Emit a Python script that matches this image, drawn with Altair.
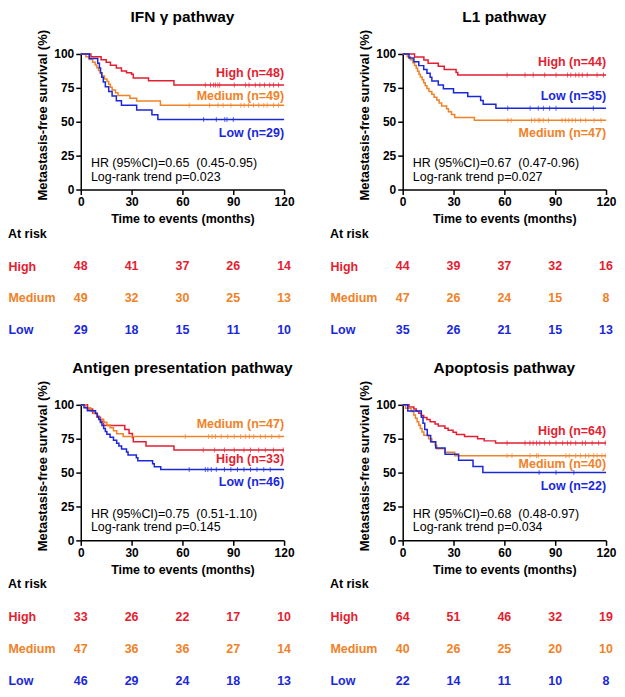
import altair as alt
import pandas as pd

FONT = "Liberation Sans"
RED = "#e41e30"
ORANGE = "#f08228"
BLUE = "#1a28da"
GROUPS = ["High", "Medium", "Low"]
COLORS = [RED, ORANGE, BLUE]
X_TICKS = [0, 30, 60, 90, 120]
Y_TICKS = [0, 25, 50, 75, 100]

# ---------------- IFN gamma pathway ----------------
ifn_high_t = [0, 6, 12, 15, 17.5, 21, 24, 27, 30, 31, 40, 55]
ifn_high_s = [100, 97.9, 95.8, 93.8, 91.7, 89.6, 87.5, 86.2, 85.0, 82.3, 80.2, 77.1]
ifn_high_c = [73.5, 76.6, 78.4, 79.5, 80.9, 82, 90.6, 97.3, 99.3, 103, 105.7, 108.5, 111.5, 113.8, 116.7]
ifn_med_t = [0, 3, 5, 7, 8.5, 9.5, 10.5, 11.5, 12.5, 14, 15.5, 16.5, 17.5, 18.5, 20.5, 22, 29, 33, 47]
ifn_med_s = [100, 98, 95.9, 93.9, 91.8, 89.8, 87.8, 85.7, 83.7, 81.6, 79.6, 77.6, 75.5, 73.5, 71.4, 69.4, 67.3, 65.3, 62.2]
ifn_med_c = [64, 76, 81, 84, 88.6, 94.5, 96.5, 99, 102, 105, 108, 110, 113.8, 116.7]
ifn_low_t = [0, 5, 10, 11, 11.7, 12.4, 13.3, 14.5, 16.5, 18.5, 21, 24, 33, 42, 45.5]
ifn_low_s = [100, 96.6, 93.1, 89.7, 86.2, 82.8, 79.3, 75.9, 72.4, 69.0, 65.5, 62.1, 58.6, 55.2, 51.7]
ifn_low_c = [72.5, 80, 85, 86.3, 90]
ifn_n = [48, 49, 29]
ifn_risk_high = [48, 41, 37, 26, 14]
ifn_risk_med = [49, 32, 30, 25, 13]
ifn_risk_low = [29, 18, 15, 11, 10]
ifn_hr = ["HR (95%CI)=0.65\u00a0 (0.45-0.95)", "Log-rank trend p=0.023"]

# ---------------- L1 pathway ----------------
l1_high_t = [0, 7, 12.5, 15, 21, 24.5, 31.5, 32.5]
l1_high_s = [100, 97.7, 95.5, 93.2, 90.9, 88.6, 86.4, 84.5]
l1_high_c = [61.6, 72.2, 77, 83.8, 90.5, 97.3, 99.2, 102.1, 104, 106, 108.9, 114.7, 118.5]
l1_med_t = [0, 2.7, 4.5, 6, 7, 8, 8.8, 9.6, 10.4, 11.5, 12.4, 13.3, 14.3, 15.5, 17.2, 18.5, 20.1, 21.5, 23, 25.9, 27, 28.8, 30.7, 42.3]
l1_med_s = [100, 97.9, 95.7, 93.6, 91.5, 89.4, 87.2, 85.1, 83, 80.9, 78.7, 76.6, 74.5, 72.3, 70.2, 68.1, 66, 63.8, 61.7, 59.6, 57.4, 55.3, 53.2, 51.1]
l1_med_c = [62, 64, 76, 78, 80, 81, 83, 86, 94, 96, 98, 100, 102, 105, 108, 113, 117]
l1_low_t = [0, 3.7, 6.6, 9.5, 12.4, 14.3, 16.2, 17.2, 21, 24, 30, 38.4, 46, 47.5, 55]
l1_low_s = [100, 97.1, 94.3, 91.4, 88.6, 85.7, 82.9, 80, 77.1, 74.3, 71.4, 68.6, 65.7, 62.9, 60]
l1_low_c = [62, 75.2, 80, 83, 86.7, 90.5, 112.5]
l1_n = [44, 47, 35]
l1_risk_high = [44, 39, 37, 32, 16]
l1_risk_med = [47, 26, 24, 15, 8]
l1_risk_low = [35, 26, 21, 15, 13]
l1_hr = ["HR (95%CI)=0.67\u00a0 (0.47-0.96)", "Log-rank trend p=0.027"]

# ---------------- Antigen presentation pathway ----------------
ag_high_t = [0, 4, 7, 9.6, 11.6, 13.5, 26, 28.5, 30.5, 31, 38.5, 55]
ag_high_s = [100, 97, 93.9, 90.9, 87.9, 84.8, 81.8, 78.8, 75.8, 72.7, 69.7, 66.7]
ag_high_c = [72.3, 79, 84.8, 90.6, 96.3, 100.2, 105, 108.9, 113.7, 119.5]
ag_med_t = [0, 3, 5.8, 7.7, 9.6, 11, 13.5, 15.4, 17.3, 19.3, 21.2, 25]
ag_med_s = [100, 97.9, 95.7, 93.6, 91.5, 89.4, 87.2, 85.1, 83, 80.9, 78.7, 76.6]
ag_med_c = [61.7, 75.5, 77.5, 79.5, 82.9, 86.7, 90.6, 94.4, 97.3, 99.5, 102.1, 106, 108.9, 112.7, 117]
ag_low_t = [0, 1.9, 3.9, 8.7, 9.8, 10.6, 11.6, 12.5, 13.5, 14.5, 15.4, 17.3, 19.3, 21.2, 22.5, 24.1, 27, 27.9, 32.8, 33.7, 42.4, 43.4, 47.2]
ag_low_s = [100, 97.8, 95.7, 93.5, 91.3, 89.1, 87, 84.8, 82.6, 80.4, 78.3, 76.1, 73.9, 71.7, 69.6, 67.4, 65.2, 63, 60.9, 58.7, 56.5, 54.3, 52.2]
ag_low_c = [64, 73.5, 75, 77, 80, 84.8, 88.6, 92.5, 96.3, 100.2, 104, 108, 111.8]
ag_n = [33, 47, 46]
ag_risk_high = [33, 26, 22, 17, 10]
ag_risk_med = [47, 36, 36, 27, 14]
ag_risk_low = [46, 29, 24, 18, 13]
ag_hr = ["HR (95%CI)=0.75\u00a0 (0.51-1.10)", "Log-rank trend p=0.145"]

# ---------------- Apoptosis pathway ----------------
ap_high_t = [0, 3.7, 6.6, 8, 9.5, 11, 12.4, 14.3, 16.2, 19.1, 21, 24.9, 26.8, 29.7, 31.7, 36.5, 44.2, 48.1, 54.8]
ap_high_s = [100, 98.4, 96.9, 95.3, 93.8, 92.2, 90.6, 89.1, 87.5, 85.9, 84.4, 82.8, 81.3, 79.7, 78.1, 76.6, 75, 73.4, 71.9]
ap_high_c = [61.6, 72.2, 75.1, 77, 79, 80.9, 83.8, 86.7, 90.5, 94.4, 97.3, 99.2, 102.1, 106, 107.9, 111.8, 115.6, 119.5]
ap_med_t = [0, 1.7, 5, 6.5, 7.5, 8.5, 9.5, 10.4, 11.4, 12.5, 15.3, 17.2, 19.1, 20.1, 24.9, 30.7]
ap_med_s = [100, 97.5, 95, 92.5, 90, 87.5, 85, 82.5, 80, 77.5, 75, 72.5, 70, 67.5, 65, 62.5]
ap_med_c = [61.6, 64.5, 75.1, 79, 80, 96.3, 98.3, 102.1, 105, 107.9, 109.8, 112.7, 114.7, 117.6, 119.5]
ap_low_t = [0, 3, 11, 12, 13, 14.5, 16.5, 19.5, 25, 33, 41.5, 47.3]
ap_low_s = [100, 95.5, 90.9, 86.4, 81.8, 77.3, 72.7, 68.2, 63.6, 59.1, 54.5, 50]
ap_low_c = [80.5, 90.5, 101]
ap_n = [64, 40, 22]
ap_risk_high = [64, 51, 46, 32, 19]
ap_risk_med = [40, 26, 25, 20, 10]
ap_risk_low = [22, 14, 11, 10, 8]
ap_hr = ["HR (95%CI)=0.68\u00a0 (0.48-0.97)", "Log-rank trend p=0.034"]

# label anchor levels (survival %, used only to place the group names)
ifn_label_y = [86, 69, 42]
l1_label_y = [94, 42, 69]
ag_label_y = [60, 86, 43]
ap_label_y = [81, 56, 40]
HR_Y = [19.5, 9.5]
HR_X = 6

PW, PH = 204, 136
STEP = 32
PADP = 0.18

color_scale = alt.Scale(domain=GROUPS, range=COLORS)


def km_chart(title, curves, cens, ns, label_y, hr):
    rows, crow = [], []
    for g, (t, s), c in zip(GROUPS, curves, cens):
        for ti, si in zip(t, s):
            rows.append({"g": g, "t": ti, "s": si})
        rows.append({"g": g, "t": 120, "s": s[-1]})
        for ci in c:
            sv = [si for ti, si in zip(t, s) if ti <= ci][-1]
            crow.append({"g": g, "t": ci, "s": sv})
    lines_df = pd.DataFrame(rows)
    cens_df = pd.DataFrame(crow)
    lab_df = pd.DataFrame({"g": GROUPS, "t": [120] * 3, "s": label_y,
                           "txt": [f"{g} (n={n})" for g, n in zip(GROUPS, ns)]})
    hr_df = pd.DataFrame({"t": [HR_X, HR_X], "s": HR_Y, "txt": hr})

    x = alt.X("t:Q", scale=alt.Scale(domain=[0, 120], nice=False, zero=False),
              axis=alt.Axis(values=X_TICKS, tickCount=len(X_TICKS), title="Time to events (months)",
                            labelFlush=False, labelOverlap=False, titleFontSize=12.5,
                            labelPadding=2, titlePadding=5))
    y = alt.Y("s:Q", scale=alt.Scale(domain=[0, 100], nice=False),
              axis=alt.Axis(values=Y_TICKS, tickCount=len(Y_TICKS), title="Metastasis-free survival (%)",
                            titleFontSize=13, labelOverlap=False, labelFlush=False,
                            labelPadding=2, titlePadding=4, titleY=61))
    color = alt.Color("g:N", scale=color_scale, legend=None)

    lines = alt.Chart(lines_df).mark_line(interpolate="step-after", strokeWidth=1.5).encode(
        x=x, y=y, color=color, detail="g:N")
    ticks = alt.Chart(cens_df).mark_tick(orient="vertical", size=5, thickness=1).encode(
        x="t:Q", y="s:Q", color=color)
    labels = alt.Chart(lab_df).mark_text(align="right", baseline="middle", font=FONT,
                                         fontSize=12.5, fontWeight="bold").encode(
        x="t:Q", y="s:Q", text="txt:N", color=color)
    hrt = alt.Chart(hr_df).mark_text(align="left", baseline="middle", font=FONT,
                                     fontSize=12.5, color="#000000").encode(
        x="t:Q", y="s:Q", text="txt:N")
    return alt.layer(lines, ticks, labels, hrt).properties(
        width=PW, height=PH,
        title=alt.TitleParams(title, anchor="middle", frame="group", fontSize=15.5,
                              fontWeight="bold", font=FONT, offset=4))


def risk_chart(hi, me, lo):
    rows = []
    for g, vals in zip(GROUPS, [hi, me, lo]):
        for t, v in zip(X_TICKS, vals):
            rows.append({"g": g, "t": t, "n": v})
    df = pd.DataFrame(rows)
    expr = (f"datum.label == 'High' ? '{RED}' : datum.label == 'Medium' ? '{ORANGE}' : '{BLUE}'")
    return alt.Chart(df).mark_text(font=FONT, fontSize=12.5, fontWeight="bold", baseline="middle").encode(
        x=alt.X("t:Q", scale=alt.Scale(domain=[0, 120], nice=False, zero=False), axis=None),
        y=alt.Y("g:N", scale=alt.Scale(type="point", domain=GROUPS, padding=PADP),
                axis=alt.Axis(title=None, ticks=False, domain=False, tickSize=0, labelAlign="left",
                              labelPadding=73, labelFontSize=12.5, labelFontWeight="bold",
                              labelColor={"expr": expr}, labelBaseline="middle")),
        color=alt.Color("g:N", scale=color_scale, legend=None),
        text="n:Q",
    ).properties(width=PW, height=STEP * (2 + 2 * PADP),
                 title=alt.TitleParams("At risk", anchor="start", frame="bounds", fontSize=12.5,
                                       fontWeight="bold", font=FONT, offset=20))


def panel(title, curves, cens, ns, label_y, hr, risk):
    return alt.vconcat(km_chart(title, curves, cens, ns, label_y, hr), risk_chart(*risk), spacing=2)


p1 = panel("IFN \u03b3 pathway",
           [(ifn_high_t, ifn_high_s), (ifn_med_t, ifn_med_s), (ifn_low_t, ifn_low_s)],
           [ifn_high_c, ifn_med_c, ifn_low_c], ifn_n, ifn_label_y, ifn_hr,
           (ifn_risk_high, ifn_risk_med, ifn_risk_low))
p2 = panel("L1 pathway",
           [(l1_high_t, l1_high_s), (l1_med_t, l1_med_s), (l1_low_t, l1_low_s)],
           [l1_high_c, l1_med_c, l1_low_c], l1_n, l1_label_y, l1_hr,
           (l1_risk_high, l1_risk_med, l1_risk_low))
p3 = panel("Antigen presentation pathway",
           [(ag_high_t, ag_high_s), (ag_med_t, ag_med_s), (ag_low_t, ag_low_s)],
           [ag_high_c, ag_med_c, ag_low_c], ag_n, ag_label_y, ag_hr,
           (ag_risk_high, ag_risk_med, ag_risk_low))
p4 = panel("Apoptosis pathway",
           [(ap_high_t, ap_high_s), (ap_med_t, ap_med_s), (ap_low_t, ap_low_s)],
           [ap_high_c, ap_med_c, ap_low_c], ap_n, ap_label_y, ap_hr,
           (ap_risk_high, ap_risk_med, ap_risk_low))

chart = alt.vconcat(
    alt.hconcat(p1, p2, spacing=35),
    alt.hconcat(p3, p4, spacing=35),
    spacing=23,
).properties(padding={"left": 0, "top": 0, "right": 0, "bottom": 0}).configure_view(
    stroke=None
).configure_axis(
    domainColor="black", domainWidth=1.5, tickColor="black", tickWidth=1.5, tickSize=5,
    grid=False, labelFont=FONT, labelFontSize=12, labelFontWeight="bold", labelColor="black",
    titleFont=FONT, titleFontWeight="bold", titleColor="black",
).configure_title(font=FONT, color="black")

chart.save("out.html", embed_options={"renderer": "svg", "actions": False})
